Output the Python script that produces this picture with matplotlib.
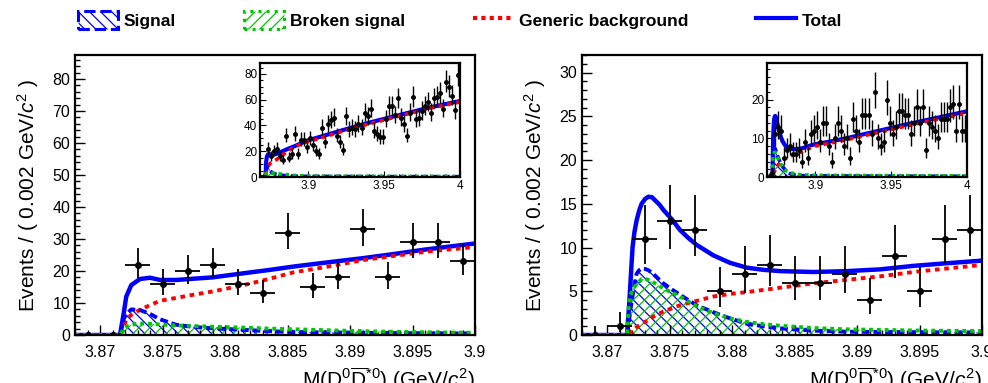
import numpy as np
import matplotlib
matplotlib.use('Agg')
import matplotlib.pyplot as plt
from matplotlib.patches import Patch
from matplotlib.lines import Line2D
from matplotlib.ticker import MultipleLocator, FixedLocator

plt.rcParams['font.family'] = ['Liberation Sans', 'DejaVu Sans']
plt.rcParams['mathtext.fontset'] = 'custom'
plt.rcParams['mathtext.rm'] = 'Liberation Sans'
plt.rcParams['mathtext.it'] = 'Liberation Sans:italic'
plt.rcParams['hatch.linewidth'] = 0.9

# ---- data: bin centres (0.002 wide) and counts ----
bins_main = [3.869, 3.871, 3.873, 3.875, 3.877, 3.879, 3.881, 3.883,
             3.885, 3.887, 3.889, 3.891, 3.893, 3.895, 3.897, 3.899]
bins_ext = [round(3.901 + 0.002 * i, 3) for i in range(50)]

counts_left = [0, 0, 22, 16, 20, 22, 16, 13, 32, 15, 18, 33, 18, 29, 29, 23]
counts_left_ext = [30, 25, 20, 18, 38, 27, 41, 44, 46, 32,
                   27, 21, 47, 37, 38, 37, 41, 38, 50, 47,
                   53, 36, 33, 31, 31, 45, 55, 55, 48, 61,
                   46, 41, 32, 50, 62, 45, 46, 51, 55, 58,
                   50, 61, 62, 65, 53, 74, 70, 63, 52, 79]

counts_right = [0, 1, 11, 13, 12, 5, 7, 8, 6, 6, 7, 4, 9, 5, 11, 12]
counts_right_ext = [13, 9, 14, 14, 8, 4, 10, 14, 12, 8,
                    10, 5, 15, 12, 9, 16, 16, 16, 11, 22,
                    10, 8, 9, 20, 14, 11, 13, 17, 17, 16,
                    16, 11, 14, 18, 14, 18, 7, 14, 13, 12,
                    10, 15, 15, 15, 18, 19, 12, 19, 12, 12]

# ---- fit curves ----
curve_x_left = [3.868, 3.8716, 3.8719, 3.8721, 3.8725, 3.8732, 3.874, 3.8748, 3.8761,
                3.8775, 3.879, 3.8815, 3.8835, 3.8855, 3.888, 3.891, 3.8935, 3.896, 3.9]
total_left = [0, 0, 6.9, 12.0, 15.6, 17.5, 17.9, 17.2, 17.2,
              17.6, 18.0, 19.3, 20.3, 21.4, 22.6, 24.0, 25.3, 26.7, 28.6]
bkg_left = [0, 0, 2.6, 4.8, 6.3, 7.9, 9.3, 10.7, 11.6,
            12.6, 13.6, 15.6, 17.5, 19.6, 21.2, 23.4, 24.7, 26.0, 27.5]
sig_left = [0, 0, 5.0, 6.5, 8.0, 7.8, 6.6, 4.9, 3.2,
            2.5, 2.1, 1.6, 1.2, 0.9, 0.8, 0.7, 0.6, 0.55, 0.5]
brk_left = [0, 0, 2.0, 2.6, 3.2, 3.6, 3.5, 3.3, 3.0,
            2.8, 2.6, 2.3, 2.0, 1.8, 1.5, 1.2, 1.0, 0.85, 0.7]

curve_x_right = [3.868, 3.8716, 3.87175, 3.87184, 3.87195, 3.87205, 3.8722, 3.87237, 3.87257,
                 3.87277, 3.87305, 3.87331, 3.8736, 3.87384, 3.8742, 3.87451, 3.8752,
                 3.87584, 3.8765, 3.87717, 3.87851, 3.87984, 3.88117, 3.8825, 3.88384,
                 3.88651, 3.88917, 3.89184, 3.89451, 3.89717, 3.9]
total_right = [0, 0, 3.0, 5.1, 7.8, 10.1, 11.8, 13.1, 14.2,
               15.0, 15.55, 15.8, 15.75, 15.4, 14.9, 14.3, 13.2,
               12.0, 11.1, 10.3, 9.1, 8.25, 7.7, 7.45, 7.3,
               7.2, 7.3, 7.5, 7.9, 8.2, 8.5]
bkg_right = [0, 0, 0.2, 0.3, 0.4, 0.5, 0.7, 0.9, 1.1,
             1.3, 1.5, 1.7, 2.0, 2.2, 2.45, 2.7, 3.05,
             3.4, 3.65, 3.9, 4.4, 4.7, 4.9, 5.15, 5.4,
             5.9, 6.3, 6.7, 7.2, 7.6, 8.0]
sig_right = [0, 0, 1.5, 2.5, 3.6, 4.5, 5.8, 7.0, 7.4,
             7.6, 7.55, 7.4, 7.1, 6.8, 6.3, 5.9, 5.2,
             4.6, 4.0, 3.4, 2.6, 1.9, 1.3, 1.0, 0.76,
             0.5, 0.38, 0.35, 0.32, 0.3, 0.3]
brk_right = [0, 0, 3.5, 4.4, 4.8, 5.2, 5.5, 5.8, 6.1,
             6.4, 6.4, 6.3, 6.1, 5.9, 5.6, 5.3, 4.85,
             4.4, 3.85, 3.3, 2.5, 1.9, 1.5, 1.25, 1.06,
             0.8, 0.65, 0.58, 0.52, 0.48, 0.45]

# inset continuation up to 4.0
curve_x_ext = [3.91, 3.92, 3.94, 3.96, 3.98, 4.0]
total_left_ext = [32.0, 35.5, 42.2, 48.1, 54.0, 59.0]
bkg_left_ext = [31.0, 34.6, 41.3, 47.3, 53.3, 58.3]
sig_left_ext = [0.45, 0.4, 0.35, 0.3, 0.3, 0.3]
brk_left_ext = [0.6, 0.55, 0.5, 0.45, 0.4, 0.4]
total_right_ext = [9.2, 10.0, 11.8, 13.6, 15.3, 17.0]
bkg_right_ext = [8.8, 9.6, 11.4, 13.2, 14.9, 16.6]
sig_right_ext = [0.28, 0.26, 0.24, 0.22, 0.2, 0.2]
brk_right_ext = [0.42, 0.4, 0.37, 0.35, 0.33, 0.3]

main_xticks = [3.87, 3.875, 3.88, 3.885, 3.89, 3.895, 3.9]
main_xlabels = ['3.87', '3.875', '3.88', '3.885', '3.89', '3.895', '3.9']
inset_xticks = [3.9, 3.95, 4.0]
inset_xlabels = ['3.9', '3.95', '4']

BLUE = '#0000ff'
GREEN = '#00c800'
RED = '#ff0000'


def poisson_err(n):
    n = np.asarray(n, dtype=float)
    lo = np.sqrt(n + 0.25) - 0.5
    hi = np.sqrt(n + 0.25) + 0.5
    return [lo, hi]


def draw(ax, cx, tot, bkg, sig, brk, bx, cnt, inset=False):
    lw = 2.6 if inset else 2.8
    ax.fill_between(cx, 0, sig, facecolor='none', edgecolor=BLUE, hatch='\\\\\\', linewidth=0)
    ax.fill_between(cx, 0, brk, facecolor='none', edgecolor=GREEN, hatch='///', linewidth=0)
    ax.plot(cx, tot, color=BLUE, lw=lw + 0.4, solid_joinstyle='round')
    ax.plot(cx, bkg, color=RED, lw=lw, linestyle=(0, (1.2, 1.2)))
    ax.plot(cx, sig, color=BLUE, lw=lw, linestyle=(0, (2.0, 1.0)))
    ax.plot(cx, brk, color=GREEN, lw=lw, linestyle=(0, (1.0, 1.0)))
    ax.errorbar(bx, cnt, yerr=poisson_err(cnt), xerr=0.001, fmt='o', color='black',
                ms=2.5 if inset else 4, elinewidth=1.0 if inset else 1.3, capsize=0)
    for s in ax.spines.values():
        s.set_linewidth(1.6)


fig = plt.figure(figsize=(9.88, 3.83), dpi=100)

panels = [
    (75, curve_x_left, total_left, bkg_left, sig_left, brk_left, counts_left, 87.5, 10, 2,
     260, total_left_ext, bkg_left_ext, sig_left_ext, brk_left_ext, counts_left_ext, 88.5, 20, 5),
    (582, curve_x_right, total_right, bkg_right, sig_right, brk_right, counts_right, 32.0, 5, 1,
     767, total_right_ext, bkg_right_ext, sig_right_ext, brk_right_ext, counts_right_ext, 29.5, 10, 2),
]

for (left_px, cx, tot, bkg, sig, brk, cnt, ymax, ymaj, ymin,
     ileft_px, tot_e, bkg_e, sig_e, brk_e, cnt_e, iymax, iymaj, iymin) in panels:
    ax = fig.add_axes([left_px / 988, 48 / 383, 400 / 988, 280 / 383])
    draw(ax, cx, tot, bkg, sig, brk, bins_main, cnt)
    ax.set_xlim(3.868, 3.9)
    ax.set_ylim(0, ymax)
    ax.xaxis.set_major_locator(FixedLocator(main_xticks))
    ax.set_xticklabels(main_xlabels)
    ax.xaxis.set_minor_locator(MultipleLocator(0.001))
    ax.yaxis.set_major_locator(MultipleLocator(ymaj))
    ax.yaxis.set_minor_locator(MultipleLocator(ymin))
    ax.tick_params(which='both', direction='in', labelsize=11.5, width=1.0)
    ax.tick_params(which='major', length=7)
    ax.tick_params(which='minor', length=3.5)
    ax.tick_params(axis='x', pad=7)
    ax.set_ylabel(r'Events / ( 0.002 GeV/$c^{2}$ )', fontsize=15, labelpad=8)
    ax.set_xlabel(r'M(D$^{0}\overline{\mathrm{D}}^{*0}$) (GeV/$c^{2}$)', fontsize=15, ha='right', va='top')
    ax.xaxis.set_label_coords(1.0, -0.11)

    ins = fig.add_axes([ileft_px / 988, 206 / 383, 200 / 988, 114 / 383])
    ins.set_facecolor('white')
    draw(ins, list(cx) + curve_x_ext, list(tot) + tot_e, list(bkg) + bkg_e,
         list(sig) + sig_e, list(brk) + brk_e, bins_main + bins_ext, cnt + cnt_e, inset=True)
    ins.set_xlim(3.868, 4.0)
    ins.set_ylim(0, iymax)
    ins.xaxis.set_major_locator(FixedLocator(inset_xticks))
    ins.set_xticklabels(inset_xlabels)
    ins.xaxis.set_minor_locator(MultipleLocator(0.01))
    ins.yaxis.set_major_locator(MultipleLocator(iymaj))
    ins.yaxis.set_minor_locator(MultipleLocator(iymin))
    ins.tick_params(which='both', direction='in', labelsize=8.5, width=0.8, pad=2)
    ins.tick_params(which='major', length=4)
    ins.tick_params(which='minor', length=2)

handles = [
    Patch(facecolor='none', edgecolor=BLUE, hatch='\\\\\\', linestyle='--', linewidth=2.2),
    Patch(facecolor='none', edgecolor=GREEN, hatch='///', linestyle=':', linewidth=2.2),
    Line2D([], [], color=RED, lw=3, linestyle=(0, (1, 1))),
    Line2D([], [], color=BLUE, lw=3),
]
labels = ['Signal', 'Broken signal', 'Generic background', 'Total']
fig.legend(handles, labels, loc='center left', bbox_to_anchor=(78 / 988, 1 - 20 / 383),
           ncol=4, frameon=False, prop={'weight': 'bold', 'size': 12.5},
           handlelength=2.3, handleheight=1.3, handletextpad=0.35, columnspacing=3.9,
           borderaxespad=0, borderpad=0)

fig.savefig('out.png', dpi=100)
